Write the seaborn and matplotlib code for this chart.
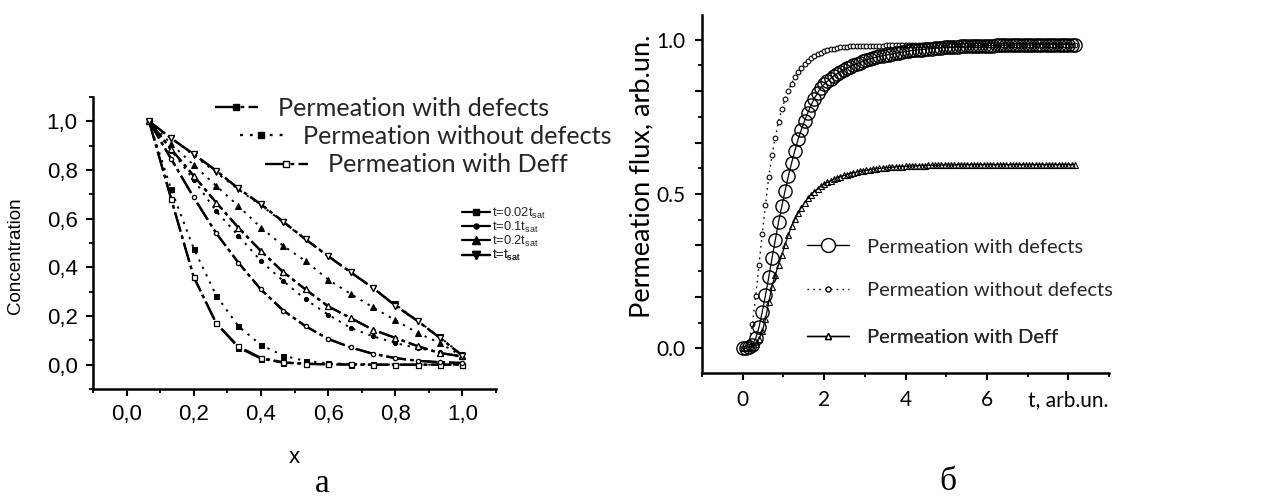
import matplotlib
matplotlib.use("Agg")
import matplotlib.pyplot as plt
from matplotlib.lines import Line2D
import seaborn as sns

sns.set_theme(style="white")
plt.rcParams["font.family"] = ["Liberation Sans", "DejaVu Sans"]
plt.rcParams["mathtext.default"] = "regular"

# ---------------- panel a: concentration profiles ----------------
x_pos = [0.067, 0.133, 0.2, 0.267, 0.333, 0.4, 0.467, 0.533, 0.6,
         0.667, 0.733, 0.8, 0.867, 0.933, 1.0]
time_labels = ["t=0.02t$_{sat}$", "t=0.1t$_{sat}$", "t=0.2t$_{sat}$", "t=t$_{sat}$"]

# permeation with defects
defects_002 = [1.0, 0.68, 0.36, 0.17, 0.07, 0.025, 0.008, 0.003, 0.001, 0.0, 0.0, 0.0, 0.0, 0.0, 0.0]
defects_01 = [1.0, 0.845, 0.687, 0.54, 0.419, 0.309, 0.222, 0.158, 0.106, 0.071, 0.045, 0.027, 0.016, 0.01, 0.007]
defects_02 = [1.0, 0.885, 0.776, 0.666, 0.563, 0.467, 0.38, 0.309, 0.24, 0.192, 0.144, 0.11, 0.076, 0.048, 0.034]
defects_sat = [1.0, 0.93, 0.865, 0.797, 0.724, 0.659, 0.587, 0.515, 0.446, 0.38, 0.316, 0.243, 0.179, 0.11, 0.037]

# permeation without defects
free_002 = [1.0, 0.72, 0.477, 0.284, 0.158, 0.081, 0.037, 0.015, 0.006, 0.003, 0.001, 0.0, 0.0, 0.0, 0.0]
free_01 = [1.0, 0.88, 0.76, 0.63, 0.53, 0.426, 0.343, 0.268, 0.206, 0.151, 0.117, 0.089, 0.068, 0.05, 0.03]
free_02 = [1.0, 0.907, 0.82, 0.735, 0.652, 0.563, 0.488, 0.426, 0.35, 0.291, 0.236, 0.183, 0.13, 0.089, 0.034]
free_sat = [1.0, 0.93, 0.86, 0.79, 0.72, 0.655, 0.585, 0.515, 0.448, 0.38, 0.315, 0.248, 0.18, 0.112, 0.04]

# permeation with effective diffusion coefficient
deff_002 = [1.0, 0.68, 0.36, 0.17, 0.075, 0.028, 0.01, 0.004, 0.002, 0.001, 0.0, 0.0, 0.0, 0.0, 0.0]
deff_01 = [1.0, 0.845, 0.687, 0.54, 0.419, 0.309, 0.222, 0.158, 0.106, 0.071, 0.045, 0.027, 0.016, 0.01, 0.007]
deff_02 = [1.0, 0.885, 0.776, 0.666, 0.563, 0.467, 0.38, 0.309, 0.24, 0.192, 0.144, 0.11, 0.076, 0.048, 0.034]
deff_sat = [1.0, 0.93, 0.865, 0.797, 0.724, 0.659, 0.587, 0.515, 0.446, 0.38, 0.316, 0.243, 0.179, 0.11, 0.037]

model_labels = ["Permeation with defects", "Permeation without defects", "Permeation with Deff"]

# ---------------- panel б: permeation flux ----------------
t_vals = [0.00, 0.08, 0.16, 0.24, 0.32, 0.40, 0.48, 0.56, 0.64, 0.72,
          0.80, 0.88, 0.96, 1.04, 1.12, 1.20, 1.28, 1.36, 1.44, 1.52,
          1.60, 1.68, 1.76, 1.84, 1.92, 2.00, 2.08, 2.16, 2.24, 2.32,
          2.40, 2.48, 2.56, 2.64, 2.72, 2.80, 2.88, 2.96, 3.04, 3.12,
          3.20, 3.28, 3.36, 3.44, 3.52, 3.60, 3.68, 3.76, 3.84, 3.92,
          4.00, 4.08, 4.16, 4.24, 4.32, 4.40, 4.48, 4.56, 4.64, 4.72,
          4.80, 4.88, 4.96, 5.04, 5.12, 5.20, 5.28, 5.36, 5.44, 5.52,
          5.60, 5.68, 5.76, 5.84, 5.92, 6.00, 6.08, 6.16, 6.24, 6.32,
          6.40, 6.48, 6.56, 6.64, 6.72, 6.80, 6.88, 6.96, 7.04, 7.12,
          7.20, 7.28, 7.36, 7.44, 7.52, 7.60, 7.68, 7.76, 7.84, 7.92,
          8.00, 8.08, 8.16]

flux_defects = [0.000, 0.000, 0.003, 0.012, 0.032, 0.068, 0.118, 0.172, 0.230, 0.292,
                0.350, 0.410, 0.460, 0.510, 0.557, 0.600, 0.640, 0.677, 0.708, 0.737,
                0.764, 0.788, 0.809, 0.828, 0.845, 0.855, 0.865, 0.874, 0.883, 0.890,
                0.896, 0.902, 0.908, 0.913, 0.918, 0.922, 0.926, 0.930, 0.934, 0.937,
                0.940, 0.943, 0.946, 0.948, 0.950, 0.952, 0.954, 0.956, 0.958, 0.960,
                0.962, 0.963, 0.965, 0.966, 0.967, 0.968, 0.969, 0.970, 0.971, 0.972,
                0.973, 0.974, 0.975, 0.975, 0.976, 0.977, 0.977, 0.978, 0.978, 0.979,
                0.979, 0.980, 0.980, 0.980, 0.981, 0.981, 0.981, 0.981, 0.982, 0.982,
                0.982, 0.982, 0.982, 0.983, 0.983, 0.983, 0.983, 0.983, 0.983, 0.983,
                0.984, 0.984, 0.984, 0.984, 0.984, 0.984, 0.984, 0.984, 0.984, 0.984,
                0.984, 0.984, 0.984]

flux_free = [0.000, 0.002, 0.020, 0.080, 0.170, 0.270, 0.370, 0.465, 0.555, 0.625,
             0.683, 0.733, 0.774, 0.808, 0.835, 0.858, 0.878, 0.895, 0.909, 0.921,
             0.931, 0.940, 0.947, 0.953, 0.958, 0.962, 0.966, 0.969, 0.971, 0.973,
             0.975, 0.976, 0.977, 0.978, 0.978, 0.979, 0.979, 0.980, 0.980, 0.980,
             0.981, 0.981, 0.981, 0.981, 0.982, 0.982, 0.982, 0.982, 0.982, 0.982,
             0.982, 0.982, 0.983, 0.983, 0.983, 0.983, 0.983, 0.983, 0.983, 0.983,
             0.983, 0.983, 0.983, 0.983, 0.983, 0.983, 0.983, 0.983, 0.983, 0.983,
             0.983, 0.983, 0.983, 0.983, 0.983, 0.983, 0.983, 0.983, 0.983, 0.983,
             0.983, 0.983, 0.983, 0.983, 0.983, 0.983, 0.983, 0.983, 0.983, 0.983,
             0.983, 0.983, 0.983, 0.983, 0.983, 0.983, 0.983, 0.983, 0.983, 0.983,
             0.983, 0.983, 0.983]

flux_deff = [0.000, 0.000, 0.001, 0.005, 0.014, 0.030, 0.055, 0.095, 0.150, 0.200,
             0.238, 0.270, 0.302, 0.335, 0.367, 0.395, 0.418, 0.438, 0.456, 0.472,
             0.486, 0.498, 0.508, 0.517, 0.525, 0.532, 0.538, 0.543, 0.548, 0.552,
             0.556, 0.560, 0.563, 0.566, 0.569, 0.571, 0.573, 0.575, 0.577, 0.579,
             0.580, 0.582, 0.583, 0.584, 0.585, 0.586, 0.587, 0.588, 0.589, 0.589,
             0.590, 0.590, 0.591, 0.591, 0.592, 0.592, 0.592, 0.593, 0.593, 0.593,
             0.593, 0.594, 0.594, 0.594, 0.594, 0.594, 0.595, 0.595, 0.595, 0.595,
             0.595, 0.595, 0.595, 0.595, 0.595, 0.595, 0.595, 0.595, 0.595, 0.595,
             0.595, 0.595, 0.595, 0.595, 0.595, 0.595, 0.595, 0.595, 0.595, 0.595,
             0.595, 0.595, 0.595, 0.595, 0.595, 0.595, 0.595, 0.595, 0.595, 0.595,
             0.595, 0.595, 0.595]

flux_labels = ["Permeation with defects", "Permeation without defects", "Permeation with Deff"]

# ---------------- figure ----------------
W, H = 1269, 501
fig = plt.figure(figsize=(W / 100, H / 100), dpi=100)
fig.patch.set_facecolor("white")


def fig_pt(x, y):
    return (x / W, 1 - y / H)


def fig_box(left, top, right, bottom):
    return [left / W, 1 - bottom / H, (right - left) / W, (bottom - top) / H]


axA = fig.add_axes(fig_box(93, 97, 496, 389))
axB = fig.add_axes(fig_box(702, 15, 1109, 373))

DASHDOT = (0, (9, 1.8, 1.6, 1.8))
DOTTED = (0, (1.2, 3.0))
ink = "black"

markers = ["s", "o", "^", "v"]
msizes = [3.6, 3.0, 4.6, 4.6]

groups_def = [defects_002, defects_01, defects_02, defects_sat]
groups_free = [free_002, free_01, free_02, free_sat]
groups_eff = [deff_002, deff_01, deff_02, deff_sat]

for vals, mk, ms in zip(groups_free, markers, msizes):
    sns.lineplot(x=x_pos, y=vals, ax=axA, color=ink, linestyle=DOTTED, linewidth=1.4,
                 marker=mk, markersize=ms, markerfacecolor=ink, markeredgecolor=ink,
                 sort=False, estimator=None, legend=False)
for vals, mk, ms in zip(groups_def, markers, msizes):
    sns.lineplot(x=x_pos, y=vals, ax=axA, color=ink, linestyle=DASHDOT, linewidth=1.6,
                 marker=mk, markersize=ms, markerfacecolor=ink, markeredgecolor=ink,
                 sort=False, estimator=None, legend=False)
for vals, mk, ms in zip(groups_eff, markers, msizes):
    sns.lineplot(x=x_pos, y=vals, ax=axA, color=ink, linestyle=DASHDOT, linewidth=1.6,
                 marker=mk, markersize=ms, markerfacecolor="white", markeredgecolor=ink,
                 markeredgewidth=0.9, sort=False, estimator=None, legend=False)

axA.set_xlim(-0.1, 1.1)
axA.set_ylim(-0.1, 1.1)
ticks_a = [0.0, 0.2, 0.4, 0.6, 0.8, 1.0]
axA.set_xticks(ticks_a)
axA.set_yticks(ticks_a)
axA.set_xticklabels([f"{v:.1f}".replace(".", ",") for v in ticks_a])
axA.set_yticklabels([f"{v:.1f}".replace(".", ",") for v in ticks_a])
minor_a = [-0.1, 0.1, 0.3, 0.5, 0.7, 0.9, 1.1]
axA.set_xticks(minor_a, minor=True)
axA.set_yticks(minor_a, minor=True)

for ax in (axA, axB):
    ax.set_facecolor("white")
    for side in ("top", "right"):
        ax.spines[side].set_visible(False)
    for side in ("left", "bottom"):
        ax.spines[side].set_color(ink)
        ax.spines[side].set_linewidth(1.8)
    ax.tick_params(which="major", direction="out", length=5, width=1.5, color=ink,
                   bottom=True, left=True, labelcolor=ink)
    ax.tick_params(which="minor", direction="out", length=3, width=1.3, color=ink,
                   bottom=True, left=True)
    ax.grid(False)

axA.tick_params(axis="both", which="major", labelsize=16, pad=6)
axA.set_xlabel("x", fontsize=16, color=ink)
axA.set_ylabel("Concentration", fontsize=13.5, color=ink)
axA.xaxis.set_label_coords(0.5, -0.2)
axA.yaxis.set_label_coords(-0.17, 0.455)

# model legend of panel a (one row each, staggered)
lato = {"family": "Lato", "size": 18.2}
rows_a = [(215, 108, ink, DASHDOT), (240, 136, ink, DOTTED), (265, 165, "white", DASHDOT)]
for (hx, hy, face, ls), lbl in zip(rows_a, model_labels):
    h = Line2D([], [], color=ink, linestyle=ls, linewidth=1.7, marker="s",
               markersize=4, markerfacecolor=face, markeredgecolor=ink)
    leg = axA.legend(handles=[h], labels=[lbl], loc="center left",
                     bbox_to_anchor=fig_pt(hx, hy), bbox_transform=fig.transFigure,
                     frameon=False, prop=lato, handlelength=1.7, handletextpad=0.8,
                     borderpad=0, borderaxespad=0)
    axA.add_artist(leg)

# time legend of panel a
for i, (lbl, mk, ms) in enumerate(zip(time_labels, markers, msizes)):
    h = Line2D([], [], color=ink, linestyle="-", linewidth=1.6, marker=mk,
               markersize=ms + 0.6, markerfacecolor=ink, markeredgecolor=ink)
    leg = axA.legend(handles=[h], labels=[lbl], loc="center left",
                     bbox_to_anchor=fig_pt(462, 213 + i * 14.2), bbox_transform=fig.transFigure,
                     frameon=False, fontsize=9.3, handlelength=2.2, handletextpad=0.15,
                     borderpad=0, borderaxespad=0)
    axA.add_artist(leg)

# ---------------- panel б drawing ----------------
sns.lineplot(x=t_vals, y=flux_deff, ax=axB, color=ink, linestyle="-", linewidth=0.9,
             marker="^", markersize=4.2, markerfacecolor="none", markeredgecolor=ink,
             markeredgewidth=0.8, sort=False, estimator=None, legend=False)
sns.lineplot(x=t_vals, y=flux_free, ax=axB, color=ink, linestyle=DOTTED, linewidth=1.0,
             marker="o", markersize=3.4, markerfacecolor="white", markeredgecolor=ink,
             markeredgewidth=0.8, sort=False, estimator=None, legend=False)
sns.lineplot(x=t_vals, y=flux_defects, ax=axB, color=ink, linestyle="-", linewidth=0.9,
             marker="o", markersize=9.5, markerfacecolor="none", markeredgecolor=ink,
             markeredgewidth=1.0, sort=False, estimator=None, legend=False)

axB.set_xlim(-1, 9)
axB.set_ylim(-0.08, 1.08)
axB.set_xticks([0, 2, 4, 6, 8])
axB.set_xticklabels(["0", "2", "4", "6", "t, arb.un."])
axB.set_xticks([-1, 1, 3, 5, 7, 9], minor=True)
ymaj_b = [0.0, 1 / 6, 2 / 6, 0.5, 4 / 6, 5 / 6, 1.0]
axB.set_yticks(ymaj_b)
axB.set_yticklabels(["0.0", "", "", "0.5", "", "", "1.0"])
axB.set_yticks([1 / 12, 3 / 12, 5 / 12, 7 / 12, 9 / 12, 11 / 12], minor=True)
for lab in axB.get_xticklabels() + axB.get_yticklabels():
    lab.set_fontfamily("Lato")
    lab.set_fontsize(15)
axB.tick_params(axis="both", which="major", pad=7)
axB.set_ylabel("Permeation flux, arb.un.", fontsize=19.5, family="Lato", color=ink)
axB.yaxis.set_label_coords(-0.118, 0.55)

rows_b = [
    (807, 247, dict(linestyle="-", marker="o", markersize=10, markerfacecolor="white")),
    (807, 290, dict(linestyle=DOTTED, marker="o", markersize=3.6, markerfacecolor="white")),
    (807, 337, dict(linestyle="-", marker="^", markersize=5, markerfacecolor="white")),
]
for (hx, hy, style), lbl in zip(rows_b, flux_labels):
    h = Line2D([], [], color=ink, linewidth=1.0, markeredgecolor=ink, **style)
    leg = axB.legend(handles=[h], labels=[lbl], loc="center left",
                     bbox_to_anchor=fig_pt(hx, hy), bbox_transform=fig.transFigure,
                     frameon=False, prop={"family": "Lato", "size": 14.5},
                     handlelength=2.1, handletextpad=0.9, borderpad=0, borderaxespad=0)
    axB.add_artist(leg)

# panel captions
fig.text(*fig_pt(322, 484), "а", ha="center", va="center",
         family="Liberation Serif", fontsize=24, color=ink)
fig.text(*fig_pt(948, 482), "б", ha="center", va="center",
         family="Liberation Serif", fontsize=24, color=ink)

fig.savefig("out.png", dpi=100, facecolor="white")
